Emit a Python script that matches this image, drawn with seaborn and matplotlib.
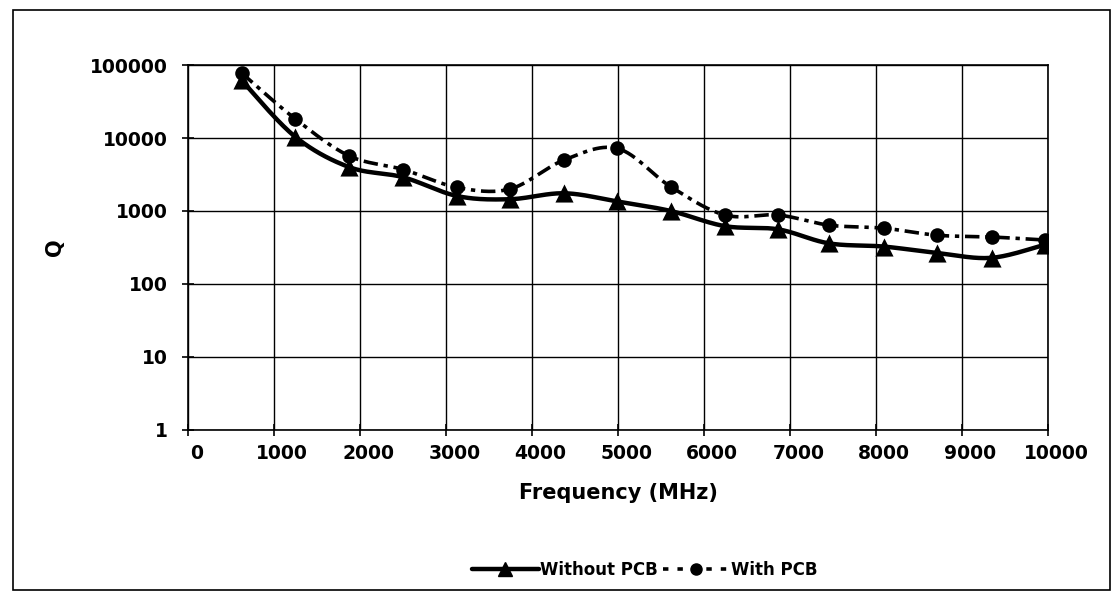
import numpy as np
import pandas as pd
import matplotlib
matplotlib.use("Agg")
import matplotlib.pyplot as plt
import matplotlib.ticker as mticker
import matplotlib.transforms as mtransforms
from matplotlib.lines import Line2D
from matplotlib.patches import Rectangle
import seaborn as sns

# ---- data ----
freq_mhz = [620, 1240, 1870, 2500, 3130, 3740, 4370, 4990,
            5610, 6240, 6860, 7450, 8090, 8710, 9340, 9960]
q_without_pcb = [62000, 10500, 4000, 2900, 1600, 1450, 1750, 1350,
                 1000, 620, 560, 360, 325, 265, 228, 345]
q_with_pcb = [78000, 18500, 5700, 3700, 2100, 2000, 5000, 7200,
              2150, 880, 880, 640, 580, 465, 440, 400]
series_names = ["Without PCB", "With PCB"]
x_ticks = list(range(0, 10001, 1000))
y_ticks = [1, 10, 100, 1000, 10000, 100000]

sns.set_theme(style="white")
plt.rcParams['font.family'] = ['DejaVu Sans']
plt.rcParams['text.color'] = 'black'
plt.rcParams['axes.labelcolor'] = 'black'


def smooth(xs, ys, n=30):
    """Catmull-Rom smoothing in (x, log y) space, like a spreadsheet smoothed line."""
    x = np.asarray(xs, float)
    y = np.log10(np.asarray(ys, float))
    px = np.concatenate([[x[0]], x, [x[-1]]])
    py = np.concatenate([[y[0]], y, [y[-1]]])
    ox, oy = [], []
    t = np.linspace(0, 1, n, endpoint=False)
    for i in range(1, len(px) - 2):
        p0, p1, p2, p3 = (np.array([px[j], py[j]]) for j in (i - 1, i, i + 1, i + 2))
        c1 = p1 + (p2 - p0) / 6.0
        c2 = p2 - (p3 - p1) / 6.0
        b = ((1 - t) ** 3)[:, None] * p1 + (3 * (1 - t) ** 2 * t)[:, None] * c1 \
            + (3 * (1 - t) * t ** 2)[:, None] * c2 + (t ** 3)[:, None] * p2
        ox.extend(b[:, 0]); oy.extend(b[:, 1])
    ox.append(x[-1]); oy.append(y[-1])
    return np.array(ox), 10 ** np.array(oy)


fig = plt.figure(figsize=(11.14, 5.92), dpi=100)
ax = fig.add_axes([0.169, 0.274, 0.772, 0.616])

dash_style = (0, (4, 1.6, 1.2, 1.6))

sx, sy = smooth(freq_mhz, q_without_pcb)
sns.lineplot(x=sx, y=sy, ax=ax, color="black", lw=3.2, sort=False, estimator=None)
sx2, sy2 = smooth(freq_mhz, q_with_pcb)
sns.lineplot(x=sx2, y=sy2, ax=ax, color="black", lw=2.6, sort=False, estimator=None,
             linestyle="--")
ax.lines[-1].set_linestyle(dash_style)

sns.scatterplot(x=freq_mhz, y=q_with_pcb, ax=ax, marker="o", s=110,
                color="black", edgecolor="black", linewidth=0, zorder=5)
sns.scatterplot(x=freq_mhz, y=q_without_pcb, ax=ax, marker="^", s=170,
                color="black", edgecolor="black", linewidth=0, zorder=6)

ax.set_yscale("log")
ax.set_xlim(0, 10000)
ax.set_ylim(1, 100000)
ax.set_xticks(x_ticks)
ax.set_yticks(y_ticks)
ax.yaxis.set_major_formatter(mticker.FuncFormatter(lambda v, p: f"{int(round(v))}"))
ax.yaxis.set_minor_locator(mticker.NullLocator())
ax.grid(True, which="major", color="black", lw=1.0)
for s in ax.spines.values():
    s.set_color("black")
    s.set_linewidth(1.2)
ax.tick_params(axis="both", which="major", direction="inout", length=9, width=1.2,
               color="black", labelsize=13.5, labelcolor="black",
               bottom=True, left=True)
ax.tick_params(axis="y", pad=10)
ax.tick_params(axis="x", pad=6)
shift = mtransforms.ScaledTranslation(8 / 100, 0, fig.dpi_scale_trans)
for lab in ax.get_xticklabels():
    lab.set_fontweight("bold")
    lab.set_transform(lab.get_transform() + shift)
for lab in ax.get_yticklabels():
    lab.set_fontweight("bold")

ax.set_xlabel("Frequency (MHz)", fontsize=15, fontweight="bold", labelpad=14)
ax.set_ylabel("Q", fontsize=15, fontweight="bold", labelpad=18)

handles = [
    Line2D([0], [0], color="black", lw=3.2, marker="^", markersize=10),
    Line2D([0], [0], color="black", lw=2.6, linestyle=(0, (1.5, 2.5)), marker="o",
           markersize=8),
]
leg = fig.legend(handles, series_names, loc="center", bbox_to_anchor=(645 / 1114, 1 - 570 / 592),
                 ncol=2, frameon=False, handlelength=4.0, handletextpad=0.1,
                 columnspacing=0.3, prop={"weight": "bold", "size": 12})

fig.patches.append(Rectangle((13 / 1114, 2 / 592), (1110 - 13) / 1114, (582 - 2) / 592,
                             transform=fig.transFigure, fill=False, edgecolor="black",
                             lw=1.2))

fig.savefig("out.png", dpi=100)
